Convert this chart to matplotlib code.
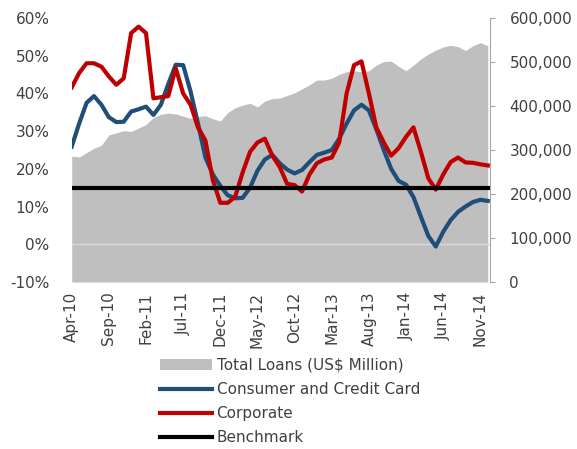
import numpy as np
import matplotlib
matplotlib.use("Agg")
import matplotlib.pyplot as plt
from matplotlib.lines import Line2D
from matplotlib.patches import Patch
from matplotlib.ticker import FuncFormatter

# monthly series, Apr-10 .. Dec-14
total_loans = [286, 284, 294, 304, 311, 334, 339, 344, 342, 350,
               358, 374, 381, 384, 382, 377, 372, 376, 378, 371,
               366, 385, 396, 402, 406, 398, 411, 417, 418, 424,
               430, 439, 448, 459, 459, 463, 472, 478, 480, 478,
               480, 493, 501, 502, 490, 480, 493, 507, 518, 527,
               534, 538, 535, 526, 537, 544, 537]  # US$ thousand million
consumer = [25.9, 32.0, 37.5, 39.3, 37.0, 33.7, 32.4, 32.5, 35.2, 35.8,
            36.5, 34.3, 37.0, 42.5, 47.6, 47.5, 40.5, 32.0, 23.0, 18.5,
            15.5, 13.0, 12.2, 12.3, 15.0, 19.5, 22.5, 23.7, 21.5, 19.8,
            18.8, 19.7, 21.8, 23.7, 24.3, 25.0, 28.0, 32.0, 35.5, 37.0,
            35.5, 30.5, 25.0, 20.0, 16.8, 15.8, 12.5, 7.3, 2.2, -0.6,
            3.3, 6.4, 8.6, 10.0, 11.2, 11.8, 11.5]
corporate = [41.6, 45.4, 48.0, 48.0, 47.1, 44.5, 42.3, 44.0, 56.0, 57.7,
             56.0, 38.7, 39.0, 39.3, 46.7, 40.0, 37.0, 31.0, 27.5, 17.0,
             11.0, 11.0, 12.6, 19.0, 24.5, 27.0, 28.0, 23.5, 20.5, 16.0,
             15.7, 14.0, 18.5, 21.5, 22.5, 23.0, 27.0, 40.0, 47.5, 48.5,
             40.0, 31.0, 27.0, 23.5, 25.5, 28.5, 31.0, 24.5, 17.5, 14.5,
             18.5, 21.8, 23.0, 21.7, 21.6, 21.2, 20.9]
benchmark = 15.0
tick_labels = ["Apr-10", "Sep-10", "Feb-11", "Jul-11", "Dec-11", "May-12",
               "Oct-12", "Mar-13", "Aug-13", "Jan-14", "Jun-14", "Nov-14"]

BLUE = "#1F4E79"
RED = "#C00000"
GRAY = "#BFBFBF"
TXT = "#404040"
FS = 11

plt.rcParams["font.family"] = "DejaVu Sans"

x = np.arange(len(total_loans))
loans = np.array(total_loans) * 1000

fig = plt.figure(figsize=(5.77, 4.49), dpi=100)
ax = fig.add_axes([71.7 / 577, 1 - 282 / 449, (490 - 71.7) / 577, 264 / 449])
ax2 = ax.twinx()

# area on the secondary axis, lines on top
ax2.fill_between(x, 0, loans, color=GRAY, linewidth=0)
ax2.set_ylim(0, 600000)
ax2.set_yticks(np.arange(0, 600001, 100000))
ax2.yaxis.set_major_formatter(FuncFormatter(lambda v, p: f"{int(v):,}"))

ax.set_zorder(ax2.get_zorder() + 1)
ax.patch.set_visible(False)

ax.axhline(0, color="#D9D9D9", lw=1, zorder=1)
ax.plot(x, consumer, color=BLUE, lw=3, solid_joinstyle="round", zorder=3)
ax.plot(x, corporate, color=RED, lw=3, solid_joinstyle="round", zorder=4)
ax.plot([x[0], x[-1] + 0.3], [benchmark, benchmark], color="black", lw=3, zorder=5)

ax.set_xlim(0, len(x) - 1 + 0.3)
ax.set_ylim(-10, 60)
ax.set_yticks(np.arange(-10, 61, 10))
ax.yaxis.set_major_formatter(FuncFormatter(lambda v, p: f"{int(v)}%"))
ax.set_xticks(x[::5])
ax.set_xticklabels(tick_labels, rotation=90)

for a in (ax, ax2):
    for s in a.spines.values():
        s.set_visible(False)
ax2.spines["right"].set_visible(True)
ax2.spines["right"].set_color("#A6A6A6")

ax.tick_params(axis="y", length=0, pad=16, labelsize=FS, labelcolor=TXT)
ax.tick_params(axis="x", length=0, pad=7, labelsize=FS, labelcolor=TXT)
ax2.tick_params(axis="y", length=3.5, color="#A6A6A6", pad=10.5, labelsize=FS, labelcolor=TXT)

handles = [Patch(facecolor=GRAY, edgecolor="none"),
           Line2D([], [], color=BLUE, lw=3),
           Line2D([], [], color=RED, lw=3),
           Line2D([], [], color="black", lw=3)]
labels = ["Total Loans (US$ Million)", "Consumer and Credit Card", "Corporate", "Benchmark"]
leg = fig.legend(handles, labels, loc="upper left", bbox_to_anchor=(160 / 577, 1 - 358 / 449),
                 frameon=False, fontsize=FS, handlelength=3.4, handletextpad=0.3,
                 labelspacing=0.6, borderpad=0, borderaxespad=0)
for t in leg.get_texts():
    t.set_color(TXT)

fig.savefig("out.png", dpi=100)
